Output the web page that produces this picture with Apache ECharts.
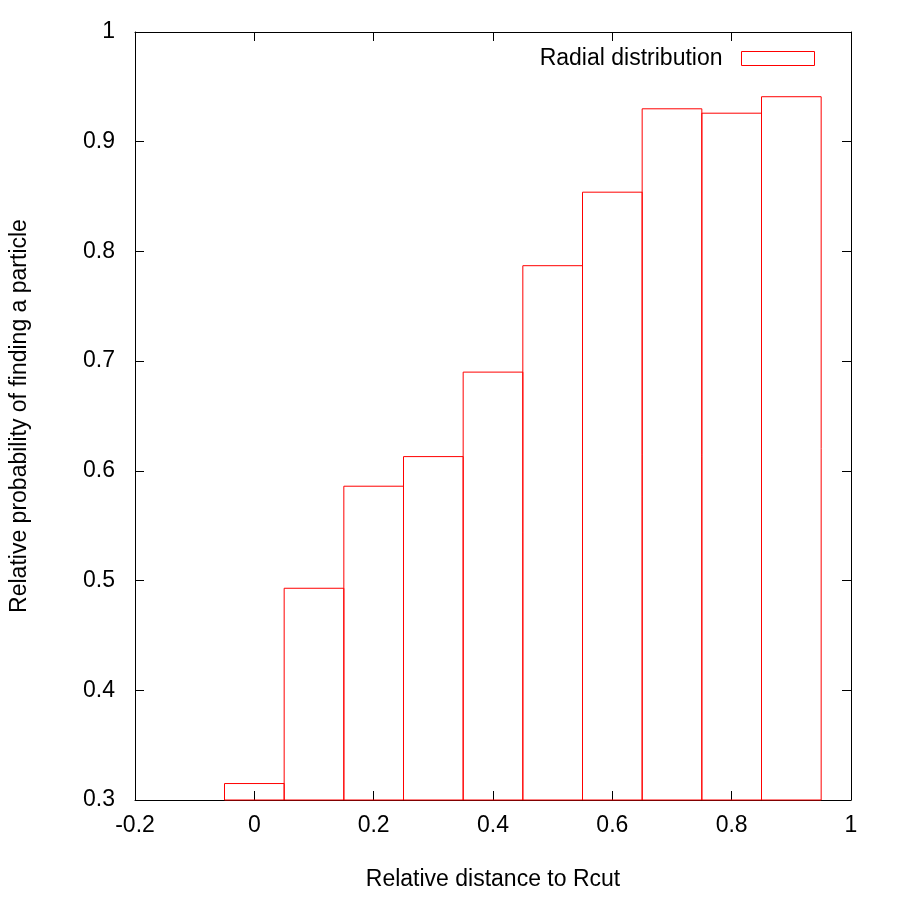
<!DOCTYPE html>
<html>
<head>
<meta charset="utf-8">
<script src="https://cdn.jsdelivr.net/npm/echarts@6/dist/echarts.min.js"></script>
</head>
<body style="margin:0">
<div id="main" style="width:900px;height:900px;"></div>
<script>
var chart = echarts.init(document.getElementById('main'));

var centers = [0, 0.1, 0.2, 0.3, 0.4, 0.5, 0.6, 0.7, 0.8, 0.9];
var values = [0.315, 0.493, 0.586, 0.613, 0.690, 0.787, 0.854, 0.930, 0.926, 0.941];
var boxWidth = 0.1;

var data = [];
for (var i = 0; i < centers.length; i++) data.push([centers[i], values[i]]);

var font = { fontFamily: 'Liberation Sans', fontSize: 23, color: '#000' };
function ax(min, max, interval, pos, show) {
    return {
        type: 'value', min: min, max: max, interval: interval, position: pos,
        axisLine: { show: true, onZero: false, lineStyle: { color: '#000', width: 1 } },
        axisTick: { show: true, inside: true, length: 9, lineStyle: { color: '#000' } },
        axisLabel: Object.assign({ show: show, margin: 20 }, font),
        splitLine: { show: false }
    };
}
var xa = ax(-0.2, 1, 0.2, 'bottom', true);
xa.axisLabel.margin = 14;
xa.name = 'Relative distance to Rcut';
xa.nameLocation = 'middle';
xa.nameGap = 68;
xa.nameTextStyle = font;
xa.axisLabel.formatter = function (v) { return +v.toFixed(1) + ''; };
var xb = ax(-0.2, 1, 0.2, 'top', false);
var ya = ax(0.3, 1, 0.1, 'left', true);
ya.name = 'Relative probability of finding a particle';
ya.nameLocation = 'middle';
ya.nameGap = 104;
ya.nameTextStyle = font;
ya.axisLabel.formatter = function (v) { return +v.toFixed(1) + ''; };
var yb = ax(0.3, 1, 0.1, 'right', false);

var option = {
    animation: false,
    backgroundColor: '#fff',
    grid: { left: 135, right: 49, top: 32, bottom: 100 },
    legend: {
        right: 80, top: 42,
        itemWidth: 73, itemHeight: 14, itemGap: 18,
        align: 'right',
        textStyle: Object.assign({ padding: [0, 14, 0, 0] }, font),
        data: [{ name: 'Radial distribution', icon: 'rect', itemStyle: { color: '#fff', borderColor: '#f00', borderWidth: 1 } }]
    },
    xAxis: [xa, xb],
    yAxis: [ya, yb],
    series: [{
        name: 'Radial distribution',
        type: 'custom',
        data: data,
        itemStyle: { color: '#fff', borderColor: '#f00' },
        renderItem: function (params, api) {
            var x = api.value(0), y = api.value(1);
            var p1 = api.coord([x - boxWidth / 2, y]);
            var p2 = api.coord([x + boxWidth / 2, 0.3]);
            return {
                type: 'rect',
                shape: { x: p1[0], y: p1[1], width: p2[0] - p1[0], height: p2[1] - p1[1] },
                style: { fill: 'none', stroke: '#f00', lineWidth: 1 }
            };
        }
    }]
};
chart.setOption(option);
</script>
</body>
</html>
